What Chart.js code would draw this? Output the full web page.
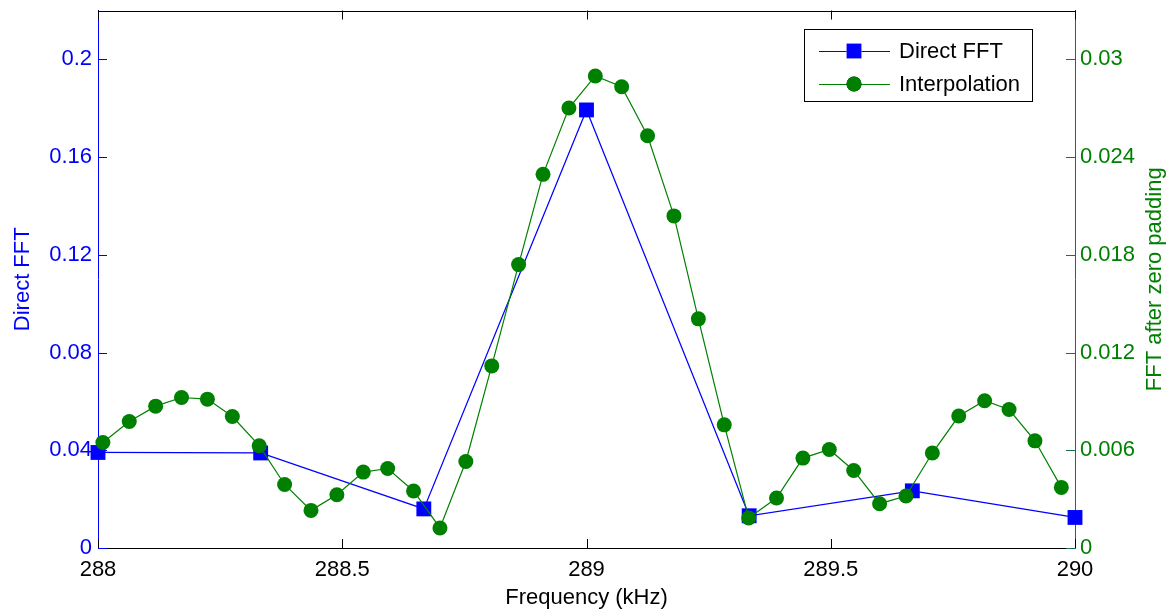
<!DOCTYPE html>
<html>
<head>
<meta charset="utf-8">
<title>Direct FFT vs interpolation</title>
<script src="https://cdn.jsdelivr.net/npm/chart.js@4.4.1/dist/chart.umd.min.js"></script>
<style>
  html, body { margin: 0; padding: 0; background: #fff; }
  #fft-chart { display: block; }
</style>
</head>
<body>
<canvas id="fft-chart" width="1176" height="613"></canvas>
<script>
// frequency in kHz, amplitude
const directFreq = [288, 288.333, 288.667, 289, 289.333, 289.667, 290];
const directAmp = [0.0391, 0.0389, 0.0160, 0.1793, 0.0132, 0.0234, 0.0125];

const interpFreq = [
  288.010, 288.064, 288.118, 288.171, 288.224, 288.275, 288.330, 288.382,
  288.436, 288.489, 288.543, 288.593, 288.646, 288.700, 288.753, 288.806,
  288.861, 288.911, 288.964, 289.018, 289.072, 289.125, 289.179, 289.229,
  289.282, 289.332, 289.389, 289.443, 289.497, 289.547, 289.600, 289.654,
  289.708, 289.762, 289.815, 289.865, 289.918, 289.972
];
const interpAmp = [
  0.00648, 0.00777, 0.00871, 0.00924, 0.00914, 0.00807, 0.00628, 0.00390,
  0.00231, 0.00327, 0.00466, 0.00488, 0.00350, 0.00123, 0.00531, 0.01118,
  0.01740, 0.02294, 0.02701, 0.02898, 0.02832, 0.02531, 0.02039, 0.01407,
  0.00756, 0.00184, 0.00307, 0.00552, 0.00605, 0.00476, 0.00272, 0.00319,
  0.00583, 0.00810, 0.00904, 0.00850, 0.00658, 0.00372
];

const xTicks = [288, 288.5, 289, 289.5, 290];
const leftTicks = [0, 0.04, 0.08, 0.12, 0.16, 0.2];
const rightTicks = [0, 0.006, 0.012, 0.018, 0.024, 0.03];

const BLUE = "#0000ff";
const GREEN = "#008000";
const TEAL = "#1b6b5b";
const FONT = "'Liberation Sans', Arial, Helvetica, sans-serif";
const FS = 22;

const toPoints = (xs, ys) => xs.map((x, i) => ({ x, y: ys[i] }));
const fixTicks = (vals) => (scale) => {
  scale.ticks = vals.map((v) => ({ value: v }));
};
// fixed axis sizes so the plot box lands where the original one is
const fitY = (w) => (s) => {
  s.width = w;
  s.paddingTop = 0;
  s.paddingBottom = 0;
};
const fitX = (h) => (s) => {
  s.height = h;
  s.paddingLeft = 0;
  s.paddingRight = 0;
};

// matlab style: tick marks point into the plot, plus the top edge of the box
const insideTicks = {
  id: "insideTicks",
  afterDatasetsDraw(chart) {
    const { ctx, chartArea: a, scales } = chart;
    const LEN = 9;
    const px = (v) => Math.round(v) + 0.5;
    ctx.save();
    ctx.lineWidth = 1;

    ctx.strokeStyle = "#000";
    ctx.beginPath();
    ctx.moveTo(a.left, px(a.top));
    ctx.lineTo(a.right, px(a.top));
    xTicks.forEach((v) => {
      const x = px(scales.x.getPixelForValue(v));
      ctx.moveTo(x, a.bottom);
      ctx.lineTo(x, a.bottom - LEN);
      ctx.moveTo(x, a.top);
      ctx.lineTo(x, a.top + LEN);
    });
    ctx.stroke();

    ctx.strokeStyle = BLUE;
    ctx.beginPath();
    leftTicks.forEach((v) => {
      const y = px(scales.y.getPixelForValue(v));
      ctx.moveTo(a.left, y);
      ctx.lineTo(a.left + LEN, y);
    });
    ctx.stroke();

    ctx.strokeStyle = TEAL;
    ctx.beginPath();
    rightTicks.forEach((v) => {
      const y = px(scales.y1.getPixelForValue(v));
      ctx.moveTo(a.right, y);
      ctx.lineTo(a.right - LEN, y);
    });
    ctx.stroke();
    ctx.restore();
  },
};

// right axis title reads bottom to top, so draw it by hand
const rightTitle = {
  id: "rightTitle",
  afterDraw(chart) {
    const { ctx, chartArea: a } = chart;
    ctx.save();
    ctx.translate(1155, (a.top + a.bottom) / 2);
    ctx.rotate(-Math.PI / 2);
    ctx.font = `${FS}px ${FONT}`;
    ctx.fillStyle = GREEN;
    ctx.textAlign = "center";
    ctx.textBaseline = "middle";
    ctx.fillText("FFT after zero padding", 0, 0);
    ctx.restore();
  },
};

// legend box inside the plot, line + marker samples
const boxLegend = {
  id: "boxLegend",
  afterDraw(chart) {
    const { ctx } = chart;
    const box = { x: 804, y: 29, w: 228, h: 72 };
    const rows = [51, 84];
    ctx.save();
    ctx.fillStyle = "#fff";
    ctx.fillRect(box.x, box.y, box.w, box.h);
    ctx.strokeStyle = "#000";
    ctx.lineWidth = 1;
    ctx.strokeRect(box.x + 0.5, box.y + 0.5, box.w, box.h);

    chart.data.datasets.forEach((ds, i) => {
      const y = rows[i];
      ctx.strokeStyle = ds.borderColor;
      ctx.lineWidth = ds.borderWidth;
      ctx.beginPath();
      ctx.moveTo(819, y + 0.5);
      ctx.lineTo(890, y + 0.5);
      ctx.stroke();
      Chart.helpers.drawPoint(ctx, {
        pointStyle: ds.pointStyle,
        radius: ds.pointRadius,
        borderWidth: ds.pointBorderWidth,
      }, 854, y);
      ctx.fillStyle = ds.pointBackgroundColor;
      ctx.fill();

      ctx.fillStyle = "#000";
      ctx.font = `${FS}px ${FONT}`;
      ctx.textAlign = "left";
      ctx.textBaseline = "middle";
      ctx.fillText(ds.label, 899, y + 1);
    });
    ctx.restore();
  },
};

new Chart(document.getElementById("fft-chart"), {
  type: "line",
  data: {
    datasets: [
      {
        label: "Direct FFT",
        data: toPoints(directFreq, directAmp),
        yAxisID: "y",
        borderColor: BLUE,
        borderWidth: 1.2,
        pointStyle: "rect",
        pointRadius: 10.5,
        pointBorderWidth: 0,
        pointBackgroundColor: BLUE,
        pointBorderColor: BLUE,
        tension: 0,
        clip: false,
        order: 1,
      },
      {
        label: "Interpolation",
        data: toPoints(interpFreq, interpAmp),
        yAxisID: "y1",
        borderColor: GREEN,
        borderWidth: 1.2,
        pointStyle: "circle",
        pointRadius: 7.5,
        pointBorderWidth: 0,
        pointBackgroundColor: GREEN,
        pointBorderColor: GREEN,
        tension: 0,
        clip: false,
        order: 0,
      },
    ],
  },
  options: {
    responsive: false,
    animation: false,
    events: [],
    layout: { padding: { top: 10, left: 0, right: 0, bottom: 0 } },
    plugins: {
      legend: { display: false },
      tooltip: { enabled: false },
    },
    scales: {
      x: {
        type: "linear",
        min: 288,
        max: 290,
        afterBuildTicks: fixTicks(xTicks),
        afterFit: fitX(65),
        grid: { display: false, drawTicks: false },
        border: { display: true, color: "#000", width: 1 },
        ticks: {
          color: "#000",
          padding: 9,
          maxRotation: 0,
          font: { family: FONT, size: FS },
          callback: (v) => String(v),
        },
        title: {
          display: true,
          text: "Frequency (kHz)",
          color: "#000",
          font: { family: FONT, size: FS },
          padding: { top: 0, bottom: 2 },
        },
      },
      y: {
        position: "left",
        min: 0,
        max: 0.22,
        afterBuildTicks: fixTicks(leftTicks),
        afterFit: fitY(98),
        grid: { display: false, drawTicks: false },
        border: { display: true, color: BLUE, width: 1 },
        ticks: {
          color: BLUE,
          padding: 6,
          font: { family: FONT, size: FS },
          callback: (v) => String(v),
        },
        title: {
          display: true,
          text: "Direct FFT",
          color: BLUE,
          font: { family: FONT, size: FS },
          padding: { top: 10, bottom: 0 },
        },
      },
      y1: {
        position: "right",
        min: 0,
        max: 0.033,
        afterBuildTicks: fixTicks(rightTicks),
        afterFit: fitY(101),
        grid: { display: false, drawTicks: false },
        border: { display: true, color: TEAL, width: 1 },
        ticks: {
          color: GREEN,
          padding: 5,
          font: { family: FONT, size: FS },
          callback: (v) => String(v),
        },
      },
    },
  },
  plugins: [insideTicks, rightTitle, boxLegend],
});
</script>
</body>
</html>
